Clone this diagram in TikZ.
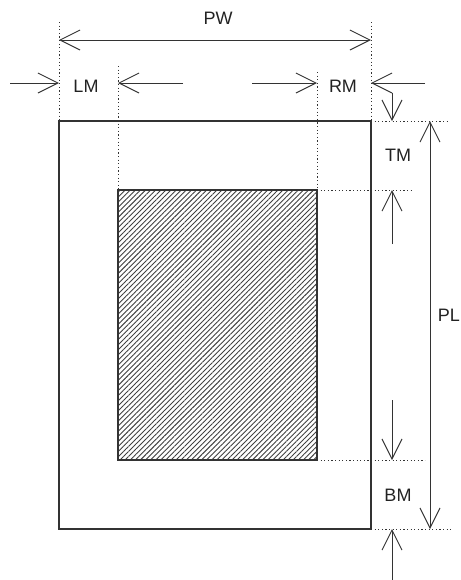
\documentclass[tikz,border=0pt]{standalone}
\usepackage{fontspec}
\setmainfont{Liberation Sans}
\usetikzlibrary{arrows.meta,patterns.meta}
\definecolor{inkline}{HTML}{333333}
\definecolor{inktext}{HTML}{222222}
\begin{document}
\begin{tikzpicture}[
  x=0.5pt, y=-0.5pt,
  dim/.style={draw=inkline, line width=0.5pt, -{Straight Barb[length=10pt,width=10pt,line width=0.5pt]}},
  dimboth/.style={dim, {Straight Barb[length=10pt,width=10pt,line width=0.5pt]}-{Straight Barb[length=10pt,width=10pt,line width=0.5pt]}},
  guide/.style={draw=inkline, line width=0.5pt, dash pattern=on 0.6pt off 1.2pt},
  page/.style={draw=inkline, line width=0.6pt},
  textarea/.style={draw=inkline, line width=0.6pt, pattern={Lines[angle=45,distance=1.8pt,line width=0.45pt]}, pattern color=black!75},
  lbl/.style={text=inktext, font=\fontsize{9}{11}\selectfont, inner sep=0pt}
]
\useasboundingbox (0,0) rectangle (461,580);

% Page and text area
\coordinate (pnw) at (59,121);
\coordinate (pse) at (371,529);
\coordinate (tnw) at (118,190);
\coordinate (tse) at (317,460);
\draw[page] (pnw) rectangle (pse);
\draw[textarea] (tnw) rectangle (tse);

% Guide lines
\draw[guide] (59,22) -- (pnw);
\draw[guide] (371,22) -- (371,121);
\draw[guide] (118,66) -- (tnw);
\draw[guide] (317,72) -- (317,190);
\draw[guide] (371,121) -- (447,121);
\draw[guide] (317,190) -- (411,190);
\draw[guide] (317,460) -- (425,460);
\draw[guide] (pse) -- (452,529);

% Page width
\coordinate (pwl) at (59,40);
\coordinate (pwr) at (371,40);
\draw[dimboth] (pwl) -- (pwr);
\node[lbl] (pw) at (218,18) {PW};

% Left and right margins
\coordinate (lma) at (10,83);
\coordinate (lmb) at (59,83);
\coordinate (lmc) at (183,83);
\coordinate (lmd) at (118,83);
\draw[dim] (lma) -- (lmb);
\draw[dim] (lmc) -- (lmd);
\node[lbl] (lm) at (86,86) {LM};
\coordinate (rma) at (252,83);
\coordinate (rmb) at (317,83);
\coordinate (rmc) at (425,83);
\coordinate (rmd) at (371,83);
\draw[dim] (rma) -- (rmb);
\draw[dim] (rmc) -- (rmd);
\node[lbl] (rm) at (343,86) {RM};

% Top and bottom margins
\coordinate (tma) at (392,93);
\coordinate (tmb) at (392,121);
\coordinate (tmc) at (392,244);
\coordinate (tmd) at (392,190);
\draw[dim] (tma) -- (tmb);
\draw[dim] (tmc) -- (tmd);
\node[lbl] (tm) at (398,155) {TM};
\coordinate (bma) at (392,400);
\coordinate (bmb) at (392,460);
\coordinate (bmc) at (392,580);
\coordinate (bmd) at (392,529);
\draw[dim] (bma) -- (bmb);
\draw[dim] (bmc) -- (bmd);
\node[lbl] (bm) at (398,495) {BM};

% Page length
\coordinate (plt) at (430,121);
\coordinate (plb) at (430,529);
\draw[dimboth] (plt) -- (plb);
\node[lbl] (pl) at (449,315) {PL};
\end{tikzpicture}
\end{document}
